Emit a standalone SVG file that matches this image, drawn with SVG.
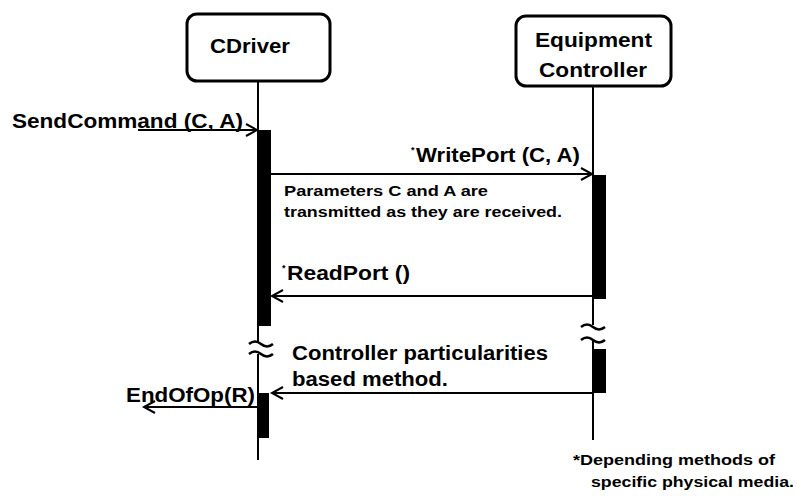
<svg xmlns="http://www.w3.org/2000/svg" width="797" height="496" viewBox="0 0 797 496">
<style>
text{font-family:"Liberation Sans",Arial,sans-serif;font-weight:bold;fill:#000}
.box{fill:#fff;stroke:#000;stroke-width:3}
.life{stroke:#000;stroke-width:2;fill:none}
.msg{stroke:#000;stroke-width:2;fill:none}
.head{stroke:#000;stroke-width:2;fill:none}
.bar{fill:#000}
.wave{stroke:#000;stroke-width:2.5;fill:none}
.lbl{font-size:20px}
.ast{font-size:9px}
.note{font-size:14px}
.foot{font-size:15px}
</style>
<rect width="797" height="496" fill="#fff"/>
<g id="cdriver">
<rect class="box" x="187" y="14" width="143" height="67" rx="10"/>
<text class="lbl" x="210" y="53" textLength="80" lengthAdjust="spacingAndGlyphs">CDriver</text>
</g>
<g id="equipment-controller">
<rect class="box" x="516" y="16" width="155" height="70" rx="10"/>
<text class="lbl" x="535" y="47" textLength="117" lengthAdjust="spacingAndGlyphs">Equipment</text>
<text class="lbl" x="539" y="77" textLength="108" lengthAdjust="spacingAndGlyphs">Controller</text>
</g>
<g id="lifelines">
<path class="life" d="M258 82V342M258 354V460"/>
<path class="life" d="M593 87V325M593 341V440"/>
<rect class="bar" x="258" y="130" width="13" height="196"/>
<rect class="bar" x="258" y="393" width="11" height="45"/>
<rect class="bar" x="593" y="175" width="13" height="124"/>
<rect class="bar" x="593" y="349" width="13" height="44"/>
<path class="wave" d="M249 344q6-5 12 0t12 0M249 354q6-5 12 0t12 0"/>
<path class="wave" d="M581 327q6-5 12 0t12 0M581 340q6-5 12 0t12 0"/>
</g>
<g id="connectors">
<path class="msg" d="M138 130H256"/>
<path class="head" d="M246 124L257 130L246 136"/>
<path class="msg" d="M271 174H592"/>
<path class="head" d="M581 168L592 174L581 180"/>
<path class="msg" d="M272 296H593"/>
<path class="head" d="M283 290L272 296L283 302"/>
<path class="msg" d="M272 393H593"/>
<path class="head" d="M283 387L272 393L283 399"/>
<path class="msg" d="M144 407H258"/>
<path class="head" d="M155 401L144 407L155 413"/>
</g>
<g id="labels">
<text class="lbl" x="12" y="128" textLength="231" lengthAdjust="spacingAndGlyphs">SendCommand (C, A)</text>
<text class="ast" x="411" y="153">*</text>
<text class="lbl" x="416" y="162" textLength="164" lengthAdjust="spacingAndGlyphs">WritePort (C, A)</text>
<text class="note" x="284" y="196" textLength="204" lengthAdjust="spacingAndGlyphs">Parameters C and A are</text>
<text class="note" x="284" y="217" textLength="278" lengthAdjust="spacingAndGlyphs">transmitted as they are received.</text>
<text class="ast" x="282" y="271">*</text>
<text class="lbl" x="287" y="280" textLength="123" lengthAdjust="spacingAndGlyphs">ReadPort ()</text>
<text class="lbl" x="292" y="360" textLength="256" lengthAdjust="spacingAndGlyphs">Controller particularities</text>
<text class="lbl" x="292" y="386" textLength="156" lengthAdjust="spacingAndGlyphs">based method.</text>
<text class="lbl" x="126" y="402" textLength="129" lengthAdjust="spacingAndGlyphs">EndOfOp(R)</text>
<text class="foot" x="573" y="465" textLength="202" lengthAdjust="spacingAndGlyphs">*Depending methods of</text>
<text class="foot" x="591" y="487" textLength="203" lengthAdjust="spacingAndGlyphs">specific physical media.</text>
</g>
</svg>
